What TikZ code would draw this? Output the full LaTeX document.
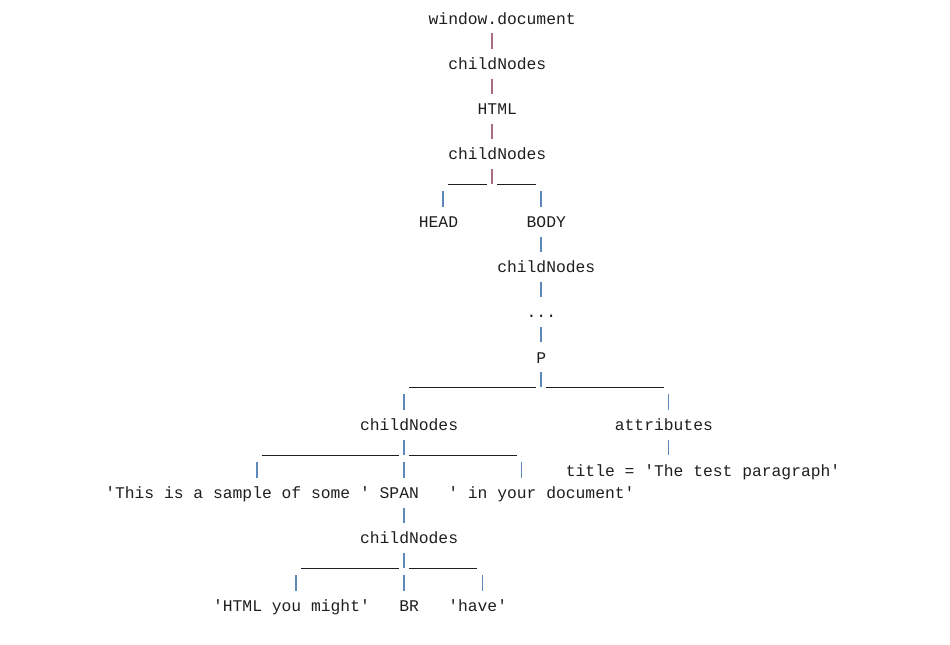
\documentclass[tikz,border=0pt]{standalone}
\usepackage{fontspec}
\setmonofont{Liberation Mono}
\definecolor{barred}{HTML}{A86C7E}
\definecolor{barblue}{HTML}{5E88B8}
\definecolor{ink}{HTML}{1E1E1E}
\begin{document}
\begin{tikzpicture}[
            x=7.35pt, y=-16.95pt,
            dom/.style={anchor=base west, inner sep=0pt, text height=15.4pt, text depth=6.75pt,
                text=ink, font=\ttfamily\fontsize{12.25pt}{14pt}\selectfont},
            redbar/.style={draw=barred, line width=1pt},
            bluebar/.style={draw=barblue, line width=1pt},
            under/.style={draw=ink, line width=0.7pt}
        ]
        \useasboundingbox (-10.714,-1.07) rectangle (86.224,27.469);

        \node[dom] (win) at (33,0) {window.document};
        \node[dom] (kids1) at (35,2) {childNodes};
        \node[dom] (html) at (38,4) {HTML};
        \node[dom] (kids2) at (35,6) {childNodes};
        \node[dom] (head) at (32,9) {HEAD};
        \node[dom] (body) at (43,9) {BODY};
        \node[dom] (kids3) at (40,11) {childNodes};
        \node[dom] (dots) at (43,13) {...};
        \node[dom] (para) at (44,15) {P};
        \node[dom] (kids4) at (26,18) {childNodes};
        \node[dom] (attrs) at (52,18) {attributes};
        \node[dom] (title) at (47,20) {title = 'The test paragraph'};
        \node[dom] (text1) at (0,21) {'This is a sample of some '};
        \node[dom] (span) at (28,21) {SPAN};
        \node[dom] (text2) at (35,21) {' in your document'};
        \node[dom] (kids5) at (26,23) {childNodes};
        \node[dom] (text3) at (11,26) {'HTML you might'};
        \node[dom] (br) at (30,26) {BR};
        \node[dom] (text4) at (35,26) {'have'};

        % columns of the bars
        \coordinate (colA) at (39.5,0);
        \coordinate (colB) at (44.5,0);
        \coordinate (colHead) at (34.5,0);
        \coordinate (colC) at (30.5,0);
        \coordinate (colAttr) at (57.5,0);
        \coordinate (colText1) at (15.5,0);
        \coordinate (colText2) at (42.5,0);
        \coordinate (colText3) at (19.5,0);
        \coordinate (colText4) at (38.5,0);

        \draw[redbar] (win.south -| colA) -- (kids1.north -| colA);
        \draw[redbar] (kids1.south -| colA) -- (html.north -| colA);
        \draw[redbar] (html.south -| colA) -- (kids2.north -| colA);
        \draw[bluebar] (body.south -| colB) -- (kids3.north -| colB);
        \draw[bluebar] (kids3.south -| colB) -- (dots.north -| colB);
        \draw[bluebar] (dots.south -| colB) -- (para.north -| colB);
        \draw[bluebar] (attrs.south -| colAttr) -- (title.north -| colAttr);
        \draw[bluebar] (span.south -| colC) -- (kids5.north -| colC);

        % HTML childNodes
        \coordinate (fork1) at (39.5,7.07);
        \coordinate (fork1l) at (35,7.07);
        \coordinate (fork1r) at (44,7.07);
        \draw[redbar] (kids2.south -| fork1) -- (fork1);
        \draw[under] (fork1l) -- ([xshift=-3.675pt]fork1) ([xshift=3.675pt]fork1) -- (fork1r);
        \draw[bluebar] (head.north -| colHead) -- ++(0pt,11.8pt);
        \draw[bluebar] (body.north -| colB) -- ++(0pt,11.8pt);

        % P
        \coordinate (fork2) at (44.5,16.07);
        \coordinate (fork2l) at (31,16.07);
        \coordinate (fork2r) at (57,16.07);
        \draw[bluebar] (para.south -| fork2) -- (fork2);
        \draw[under] (fork2l) -- ([xshift=-3.675pt]fork2) ([xshift=3.675pt]fork2) -- (fork2r);
        \draw[bluebar] (kids4.north -| colC) -- ++(0pt,11.8pt);
        \draw[bluebar] (attrs.north -| colAttr) -- ++(0pt,11.8pt);

        % P childNodes
        \coordinate (fork3) at (30.5,19.07);
        \coordinate (fork3l) at (16,19.07);
        \coordinate (fork3r) at (42,19.07);
        \draw[bluebar] (kids4.south -| fork3) -- (fork3);
        \draw[under] (fork3l) -- ([xshift=-3.675pt]fork3) ([xshift=3.675pt]fork3) -- (fork3r);
        \draw[bluebar] (text1.north -| colText1) -- ++(0pt,11.8pt);
        \draw[bluebar] (span.north -| colC) -- ++(0pt,11.8pt);
        \draw[bluebar] (text2.north -| colText2) -- ++(0pt,11.8pt);

        % SPAN childNodes
        \coordinate (fork4) at (30.5,24.07);
        \coordinate (fork4l) at (20,24.07);
        \coordinate (fork4r) at (38,24.07);
        \draw[bluebar] (kids5.south -| fork4) -- (fork4);
        \draw[under] (fork4l) -- ([xshift=-3.675pt]fork4) ([xshift=3.675pt]fork4) -- (fork4r);
        \draw[bluebar] (text3.north -| colText3) -- ++(0pt,11.8pt);
        \draw[bluebar] (br.north -| colC) -- ++(0pt,11.8pt);
        \draw[bluebar] (text4.north -| colText4) -- ++(0pt,11.8pt);
    \end{tikzpicture}
\end{document}
